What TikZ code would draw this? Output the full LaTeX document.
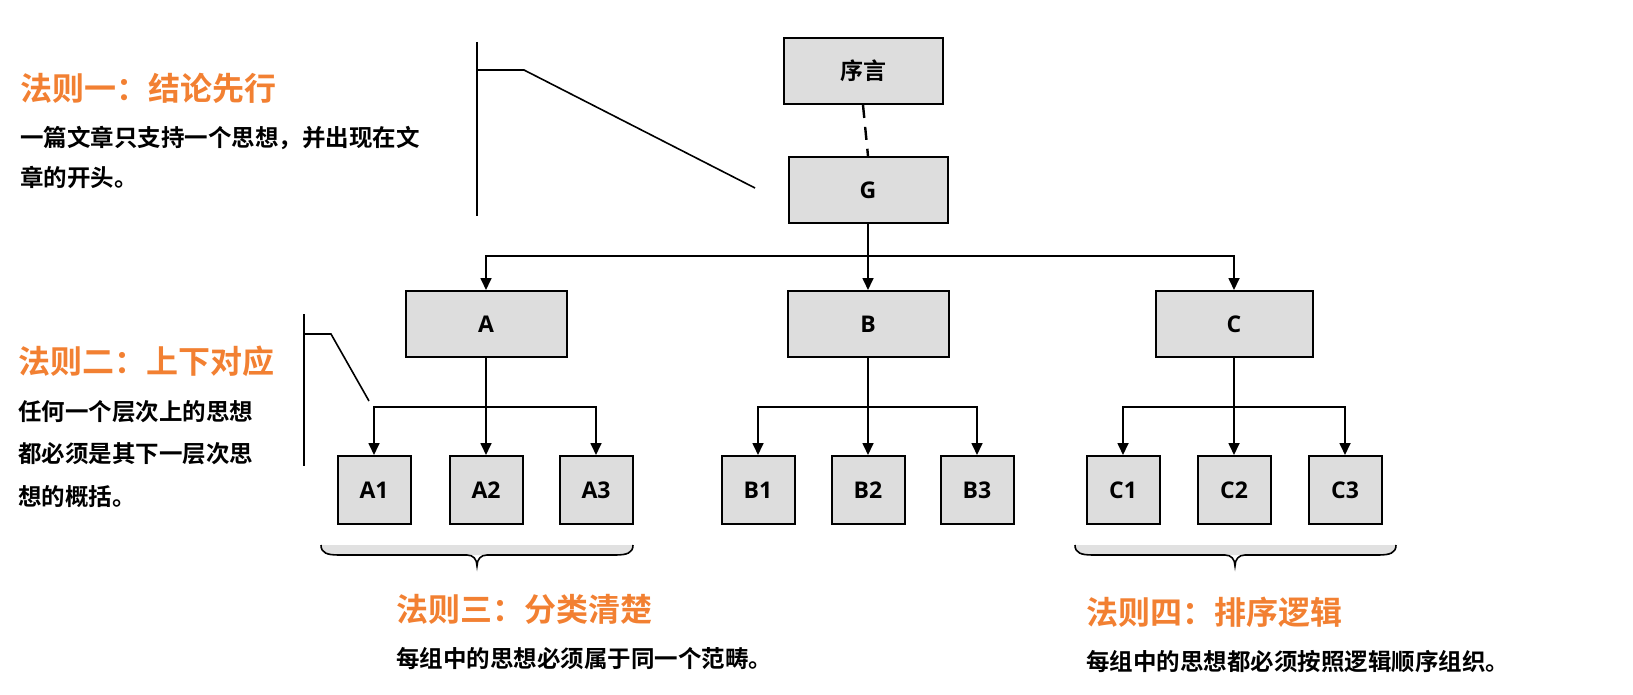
\documentclass[tikz,border=0pt]{standalone}
\usepackage{fontspec}
\setmainfont{Noto Sans CJK SC}[BoldFont=* Bold]
\newfontfamily\lat{Open Sans}[BoldFont=* Bold]
\usetikzlibrary{arrows.meta}
\definecolor{boxgray}{RGB}{221,221,221}
\definecolor{rulecol}{RGB}{242,128,50}
\definecolor{bandgray}{RGB}{225,225,225}
\tikzset{
  box/.style={draw=black, line width=2pt, fill=boxgray, inner sep=0pt, font=\fontsize{23}{27}\selectfont\bfseries},
  bigbox/.style={box, minimum width=159pt, minimum height=66pt},
  smallbox/.style={box, minimum width=73pt, minimum height=68pt},
  arr/.style={line width=1.7pt, -{Triangle[length=12pt,width=11pt]}},
  conn/.style={line width=1.7pt},
  brk/.style={line width=1.6pt},
  title/.style={anchor=west, inner sep=0pt, text=rulecol, font=\fontsize{32}{38}\selectfont\bfseries},
  body/.style={anchor=north west, inner sep=0pt, align=left, font=\fontsize{23.5}{40}\selectfont\bfseries},
}
\begin{document}
\begin{tikzpicture}[x=1pt,y=-1pt]
\useasboundingbox (0,0) rectangle (1633,695);
% top nodes
\node[bigbox] (pre) at (863,71) {序言};
\node[bigbox] (G) at (868,190) {\lat G};
\node[bigbox, minimum width=161pt] (A) at (486,324) {\lat A};
\node[bigbox, minimum width=161pt] (B) at (868,324) {\lat B};
\node[bigbox, minimum width=157pt] (C) at (1234,324) {\lat C};
% leaves
\node[smallbox] (A1) at (374,490) {\lat A1};
\node[smallbox] (A2) at (486,490) {\lat A2};
\node[smallbox] (A3) at (596,490) {\lat A3};
\node[smallbox] (B1) at (758,490) {\lat B1};
\node[smallbox] (B2) at (868,490) {\lat B2};
\node[smallbox] (B3) at (977,490) {\lat B3};
\node[smallbox] (C1) at (1123,490) {\lat C1};
\node[smallbox] (C2) at (1234,490) {\lat C2};
\node[smallbox] (C3) at (1345,490) {\lat C3};
% connectors
\draw[line width=2.4pt, dash pattern=on 13pt off 9pt] (pre.south) -- (G.north);
\coordinate (jG) at (868,256);
\draw[conn] (G.south) -- (jG);
\draw[arr] (jG) -| (A.north);
\draw[arr] (jG) -| (C.north);
\draw[arr] (jG) -- (B.north);
\coordinate (jA) at (486,407);
\coordinate (jB) at (868,407);
\coordinate (jC) at (1234,407);
\foreach \p in {A,B,C}{
  \draw[conn] (\p.south) -- (j\p);
  \draw[arr] (j\p) -| (\p1.north);
  \draw[arr] (j\p) -- (\p2.north);
  \draw[arr] (j\p) -| (\p3.north);
}
% bracket lines
\coordinate (b1t) at (477,42);
\coordinate (b1b) at (477,216);
\coordinate (b1k) at (524,70);
\coordinate (b1e) at (755,188);
\draw[brk] (b1t) -- (b1b);
\draw[brk] (b1t |- b1k) -- (b1k) -- (b1e);
\coordinate (b2t) at (304,314);
\coordinate (b2b) at (304,466);
\coordinate (b2k) at (331,334);
\coordinate (b2e) at (369,401);
\draw[brk] (b2t) -- (b2b);
\draw[brk] (b2t |- b2k) -- (b2k) -- (b2e);
% braces
\foreach \xa/\xm/\xb in {321/477/633, 1075/1235/1396}{
  \fill[bandgray] (\xa,545) .. controls (\xa,553) and (\xa+6,555) .. (\xa+18,555) -- (\xb-18,555) .. controls (\xb-6,555) and (\xb,553) .. (\xb,545) -- cycle;
  \draw[line width=1.6pt] (\xa,545) .. controls (\xa,553) and (\xa+6,555) .. (\xa+18,555) -- (\xm-10,555) .. controls (\xm-4,555) and (\xm,559) .. (\xm,566) .. controls (\xm,559) and (\xm+4,555) .. (\xm+10,555) -- (\xb-18,555) .. controls (\xb-6,555) and (\xb,553) .. (\xb,545);
}
% texts
\node[title] (t1) at (20,88) {法则一：结论先行};
\node[body] (d1) at (20,126) {一篇文章只支持一个思想，并出现在文\\章的开头。};
\node[title] (t2) at (18,361) {法则二：上下对应};
\node[body, font=\fontsize{23.5}{42.5}\selectfont\bfseries] (d2) at (18,400) {任何一个层次上的思想\\都必须是其下一层次思\\想的概括。};
\node[title] (t3) at (396,609) {法则三：分类清楚};
\node[body] (d3) at (396,647) {每组中的思想必须属于同一个范畴。};
\node[title] (t4) at (1086,612) {法则四：排序逻辑};
\node[body] (d4) at (1086,650) {每组中的思想都必须按照逻辑顺序组织。};
\end{tikzpicture}
\end{document}
